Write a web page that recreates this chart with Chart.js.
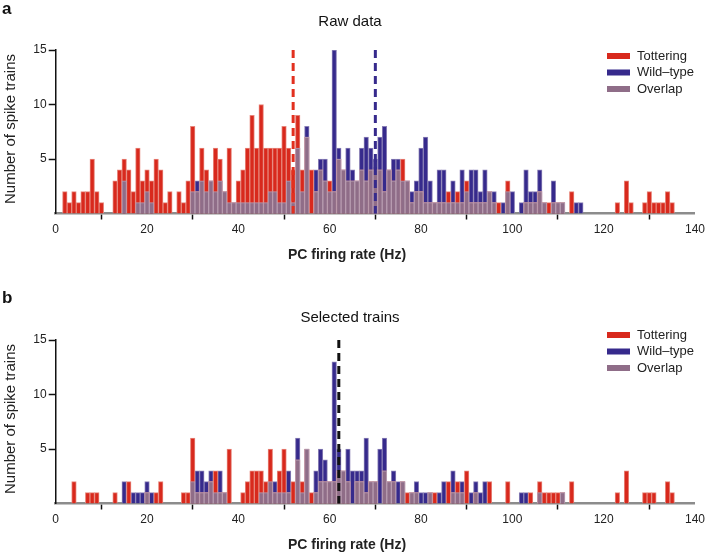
<!DOCTYPE html>
<html lang="en">
<head>
<meta charset="UTF-8">
<title>PC firing rate histograms</title>
<script src="https://cdn.jsdelivr.net/npm/chart.js"></script>
<style>
    body { margin: 0; background: #fff; }
    canvas { position: absolute; left: 0; }
    #panelA { top: 0; }
    #panelB { top: 290px; }
</style>
</head>
<body>
<canvas id="panelA" width="708" height="265"></canvas>
<canvas id="panelB" width="708" height="265"></canvas>
<script>
// number of spike trains per 1 Hz bin, bins 0 .. 139 Hz
const TOTTERING_RAW = [
    0,0,2,1,2,1,2,2,5,2,
    1,0,0,3,4,5,4,2,6,3,
    4,3,5,4,1,2,0,2,1,3,
    8,2,6,4,3,6,5,2,6,1,
    3,4,6,9,6,10,6,6,6,6,
    8,6,4,9,4,7,4,2,4,3,
    3,2,5,4,3,3,3,4,3,4,
    4,4,2,4,3,4,5,3,1,2,
    2,1,1,1,1,1,2,1,2,1,
    3,1,1,1,1,2,1,1,0,3,
    0,0,0,1,1,1,2,1,1,1,
    1,1,0,2,0,0,0,0,0,0,
    0,0,0,1,0,3,1,0,0,1,
    2,1,1,1,2,1,0,0,0,0
];
const WILDTYPE_RAW = [
    0,0,0,0,0,0,0,0,0,0,
    0,0,0,0,0,3,0,0,1,1,
    2,1,0,0,0,0,0,0,0,0,
    2,3,3,2,3,2,3,2,1,1,
    1,1,1,1,1,1,1,2,2,1,
    1,3,1,6,2,8,0,4,5,5,
    2,15,6,4,6,4,3,6,7,6,
    5,7,8,4,5,5,3,3,2,3,
    6,7,3,1,4,4,1,3,1,4,
    2,4,4,2,4,2,2,0,1,2,
    2,0,1,4,2,2,4,1,0,3,
    1,1,0,0,1,1,0,0,0,0,
    0,0,0,0,0,0,0,0,0,0,
    0,0,0,0,0,0,0,0,0,0
];
const TOTTERING_SEL = [
    0,0,0,0,2,0,0,1,1,1,
    0,0,0,1,0,0,2,0,0,0,
    1,0,1,2,0,0,0,0,1,1,
    6,1,1,1,2,3,1,1,5,0,
    0,1,2,3,3,3,2,5,1,3,
    5,1,2,4,2,5,1,1,2,2,
    2,2,3,3,2,0,2,2,1,2,
    2,0,3,2,2,0,2,1,1,1,
    0,0,1,1,0,0,2,1,2,1,
    3,0,1,0,0,2,0,0,0,2,
    0,0,0,0,1,0,2,1,1,1,
    1,1,0,2,0,0,0,0,0,0,
    0,0,0,1,0,3,0,0,0,1,
    1,1,0,0,2,1,0,0,0,0
];
const WILDTYPE_SEL = [
    0,0,0,0,0,0,0,0,0,0,
    0,0,0,0,0,2,0,1,1,1,
    2,1,0,0,0,0,0,0,0,0,
    2,3,3,2,3,1,3,1,0,0,
    0,0,0,0,0,1,1,2,2,1,
    1,3,0,6,1,5,0,3,5,4,
    2,13,5,3,5,3,3,3,6,2,
    2,5,6,2,3,2,2,0,1,2,
    1,1,1,0,1,2,0,3,1,2,
    0,1,2,1,2,0,0,0,0,0,
    0,0,1,1,0,0,1,0,0,0,
    0,1,0,0,0,0,0,0,0,0,
    0,0,0,0,0,0,0,0,0,0,
    0,0,0,0,0,0,0,0,0,0
];
// mean firing rates (dashed lines), Hz
const MEAN_TOT_RAW = 52;
const MEAN_WT_RAW = 70;
const MEAN_SEL = 62;

const SERIES = ['Tottering', 'Wild\u2013type', 'Overlap'];
const X_TICKS = [0, 20, 40, 60, 80, 100, 120, 140];
const Y_TICKS = [5, 10, 15];

const RED = '#d8291d';
const BLUE = '#362a8c';
const MAUVE = '#8f6d88';
const FONT = "'Liberation Sans', Arial, sans-serif";

function toPoints(arr) {
    return arr.map((v, i) => ({ x: i, y: v || null }));
}

function extras(p) {
    return {
        id: 'extras',
        afterDatasetsDraw(chart) {
            const { ctx, scales } = chart;
            ctx.save();
            ctx.lineWidth = 3;
            ctx.setLineDash([8, 5]);
            p.lines.forEach(l => {
                const x = scales.x.getPixelForValue(l.value);
                ctx.strokeStyle = l.color;
                ctx.beginPath();
                ctx.moveTo(x, scales.y.getPixelForValue(15));
                ctx.lineTo(x, scales.y.getPixelForValue(0));
                ctx.stroke();
            });
            ctx.restore();
        },
        afterDraw(chart) {
            const ctx = chart.ctx;
            ctx.save();
            ctx.fillStyle = '#111';
            ctx.textBaseline = 'alphabetic';
            ctx.textAlign = 'left';
            ctx.font = 'bold 17px ' + FONT;
            ctx.fillText(p.letter, 2, p.letterY);

            ctx.textAlign = 'center';
            ctx.textBaseline = 'middle';
            ctx.font = '15px ' + FONT;
            ctx.fillText(p.title, 350, p.titleY);

            ctx.font = 'bold 14px ' + FONT;
            ctx.fillStyle = '#222';
            ctx.fillText('PC firing rate (Hz)', 347, 255);

            ctx.save();
            ctx.translate(11, 129);
            ctx.rotate(-Math.PI / 2);
            ctx.font = '15px ' + FONT;
            ctx.fillText('Number of spike trains', 0, 0);
            ctx.restore();

            // legend
            const colors = [RED, BLUE, MAUVE];
            ctx.textAlign = 'left';
            ctx.font = '13px ' + FONT;
            SERIES.forEach((s, i) => {
                const y = p.legendY + i * 16.5;
                ctx.fillStyle = colors[i];
                ctx.fillRect(607, y - 3, 23, 6);
                ctx.fillStyle = '#222';
                ctx.fillText(s, 637, y);
            });
            ctx.restore();
        }
    };
}

function makePanel(id, tot, wt, p) {
    const overlap = tot.map((v, i) => Math.min(v, wt[i]));
    const bar = { grouped: false, barPercentage: 1, categoryPercentage: 1, borderWidth: 1 };
    new Chart(document.getElementById(id), {
        type: 'bar',
        data: {
            datasets: [
                { ...bar, label: SERIES[2], data: toPoints(overlap), backgroundColor: MAUVE, borderColor: '#b79cb0', order: 0 },
                { ...bar, label: SERIES[0], data: toPoints(tot), backgroundColor: RED, borderColor: '#e7857a', order: 1 },
                { ...bar, label: SERIES[1], data: toPoints(wt), backgroundColor: BLUE, borderColor: '#8a80b6', order: 2 }
            ]
        },
        options: {
            responsive: false,
            animation: false,
            devicePixelRatio: 1,
            layout: { padding: { top: 50, right: 12.3, left: 0, bottom: 0 } },
            plugins: { legend: { display: false }, tooltip: { enabled: false } },
            scales: {
                x: {
                    type: 'linear',
                    min: 0, max: 140,
                    offset: false,
                    afterBuildTicks: s => { s.ticks = X_TICKS.map(v => ({ value: v })); },
                    afterFit: s => { s.height = 51.5; },
                    ticks: { color: '#222', font: { family: FONT, size: 12 }, padding: 3, maxRotation: 0 },
                    grid: { drawOnChartArea: false, tickLength: 6, tickColor: '#111', tickWidth: 1.5 },
                    border: { color: '#8c8c8c', width: 2.5 }
                },
                y: {
                    min: 0, max: 15,
                    afterBuildTicks: s => { s.ticks = Y_TICKS.map(v => ({ value: v })); },
                    afterFit: s => { s.width = 55.7; },
                    ticks: { color: '#222', font: { family: FONT, size: 12 }, padding: 2 },
                    grid: { drawOnChartArea: false, tickLength: 7, tickColor: '#111', tickWidth: 1.5 },
                    border: { color: '#111', width: 1.5 }
                }
            }
        },
        plugins: [extras(p)]
    });
}

makePanel('panelA', TOTTERING_RAW, WILDTYPE_RAW, {
    letter: 'a', letterY: 14, title: 'Raw data', titleY: 22, legendY: 56,
    lines: [{ value: MEAN_TOT_RAW, color: '#e2301f' }, { value: MEAN_WT_RAW, color: BLUE }]
});
makePanel('panelB', TOTTERING_SEL, WILDTYPE_SEL, {
    letter: 'b', letterY: 13, title: 'Selected trains', titleY: 28, legendY: 45,
    lines: [{ value: MEAN_SEL, color: '#111' }]
});
</script>
</body>
</html>
